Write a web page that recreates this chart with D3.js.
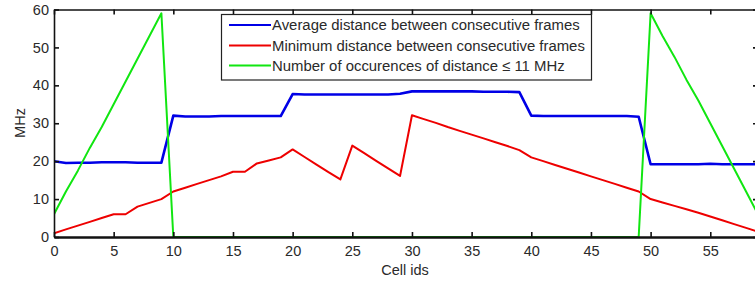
<!DOCTYPE html>
<html>
<head>
<meta charset="utf-8">
<script src="https://cdn.jsdelivr.net/npm/d3@7"></script>
<style>
  html, body { margin: 0; padding: 0; background: #fff; overflow: hidden; }
  svg { display: block; font-family: "Liberation Sans", Arial, sans-serif; }
</style>
</head>
<body>
<svg id="chart" width="755" height="284"></svg>
<script>
// ---- data ----
const cellIds = d3.range(0, 60);
const avgDistance = [
  20.0, 19.5, 19.6, 19.6, 19.7, 19.7, 19.7, 19.6, 19.6, 19.6,
  32.0, 31.8, 31.8, 31.8, 31.9, 31.9, 31.9, 31.9, 31.9, 31.9,
  37.7, 37.6, 37.6, 37.6, 37.6, 37.6, 37.6, 37.6, 37.6, 37.8,
  38.4, 38.4, 38.4, 38.4, 38.4, 38.4, 38.3, 38.3, 38.3, 38.2,
  32.0, 31.9, 31.9, 31.9, 31.9, 31.9, 31.9, 31.9, 31.9, 31.7,
  19.2, 19.2, 19.2, 19.2, 19.2, 19.3, 19.2, 19.2, 19.2, 19.2
];
const minDistance = [
  1.0, 2.0, 3.0, 4.0, 5.0, 6.0, 6.0, 8.0, 9.0, 10.0,
  12.0, 13.0, 14.0, 15.0, 16.0, 17.2, 17.2, 19.4, 20.2, 21.0,
  23.1, 21.1, 19.1, 17.1, 15.2, 24.1, 22.1, 20.1, 18.1, 16.1,
  32.1, 31.1, 30.1, 29.0, 28.0, 27.0, 26.0, 25.0, 24.0, 22.9,
  21.0, 20.0, 19.0, 18.0, 17.0, 16.0, 15.0, 14.0, 13.0, 12.0,
  10.0, 9.1, 8.2, 7.3, 6.4, 5.4, 4.4, 3.4, 2.4, 1.4
];
const occurrences = [
  6, 12, 17.5, 23.5, 29, 35, 41, 47, 53, 59,
  0, 0, 0, 0, 0, 0, 0, 0, 0, 0,
  0, 0, 0, 0, 0, 0, 0, 0, 0, 0,
  0, 0, 0, 0, 0, 0, 0, 0, 0, 0,
  0, 0, 0, 0, 0, 0, 0, 0, 0, 0,
  59, 53, 47.5, 41.5, 36, 30, 24, 18, 12, 6
];
const seriesNames = [
  "Average distance between consecutive frames",
  "Minimum distance between consecutive frames",
  "Number of occurences of distance \u2264 11 MHz"
];
const seriesColors = ["#0000e6", "#ee0000", "#11e611"];
const xTicks = d3.range(0, 60, 5);
const yTicks = d3.range(0, 61, 10);

// ---- layout ----
const svg = d3.select("#chart");
const pLeft = 54, pRight = 758, pTop = 9.5, pBottom = 237;
const x = d3.scaleLinear().domain([0, 59]).range([pLeft, pRight]);
const y = d3.scaleLinear().domain([0, 60]).range([pBottom, pTop]);

const plot = svg.append("g");
plot.append("clipPath").attr("id", "clip")
  .append("rect").attr("x", pLeft).attr("y", pTop - 2)
  .attr("width", pRight - pLeft).attr("height", pBottom - pTop + 2);

// lines
const series = [avgDistance, minDistance, occurrences];
const widths = [2.6, 2.0, 2.0];
const line = d3.line().x((d, i) => x(cellIds[i])).y(d => y(d));
series.forEach((s, k) => {
  plot.append("path")
    .datum(s)
    .attr("clip-path", "url(#clip)")
    .attr("fill", "none")
    .attr("stroke", seriesColors[k])
    .attr("stroke-width", widths[k])
    .attr("stroke-linejoin", "round")
    .attr("d", line);
});

// axes
const tickLen = 5;
const axisColor = "#111";
const textColor = "#2a2a2a";
const fs = 14.5;

const gxB = svg.append("g").attr("transform", `translate(0,${pBottom})`)
  .call(d3.axisBottom(x).tickValues(xTicks).tickSize(-tickLen).tickSizeOuter(0).tickPadding(9));
const gxT = svg.append("g").attr("transform", `translate(0,${pTop})`)
  .call(d3.axisTop(x).tickValues(xTicks).tickSize(-tickLen).tickSizeOuter(0).tickFormat(""));
const gyL = svg.append("g").attr("transform", `translate(${pLeft},0)`)
  .call(d3.axisLeft(y).tickValues(yTicks).tickSize(-tickLen).tickSizeOuter(0).tickPadding(9));
const gyR = svg.append("g").attr("transform", `translate(${pRight},0)`)
  .call(d3.axisRight(y).tickValues(yTicks).tickSize(-tickLen).tickSizeOuter(0).tickFormat(""));

[gxB, gxT, gyL, gyR].forEach(g => {
  g.selectAll(".tick line").attr("stroke", axisColor).attr("stroke-width", 1.6);
  g.selectAll(".tick text").attr("fill", textColor)
    .style("font-size", fs + "px").style("font-family", "Liberation Sans, Arial, sans-serif");
});
[gxT, gyL, gyR].forEach(g => g.select(".domain").attr("stroke", axisColor).attr("stroke-width", 1.6));
gxB.select(".domain").attr("stroke", axisColor).attr("stroke-width", 2.4);
gyL.selectAll(".tick text").attr("dx", "4");

// axis labels
svg.append("text").attr("x", 405).attr("y", 275).attr("text-anchor", "middle")
  .attr("fill", textColor).style("font-size", fs + "px").text("Cell ids");
svg.append("text").attr("transform", "translate(25,123) rotate(-90)")
  .attr("text-anchor", "middle").attr("fill", textColor)
  .style("font-size", fs + "px").text("MHz");

// legend
const lg = svg.append("g");
lg.append("rect").attr("x", 221.5).attr("y", 14.5).attr("width", 370).attr("height", 65.5)
  .attr("fill", "#fff").attr("stroke", "#222").attr("stroke-width", 1.2);
const rowsY = [25, 45.5, 65.5];
seriesNames.forEach((name, k) => {
  lg.append("line").attr("x1", 229).attr("x2", 271)
    .attr("y1", rowsY[k]).attr("y2", rowsY[k])
    .attr("stroke", seriesColors[k]).attr("stroke-width", 1.8);
  lg.append("text").attr("x", 272).attr("y", rowsY[k] + 5)
    .attr("fill", textColor).style("font-size", "14.9px").text(name);
});
</script>
</body>
</html>
